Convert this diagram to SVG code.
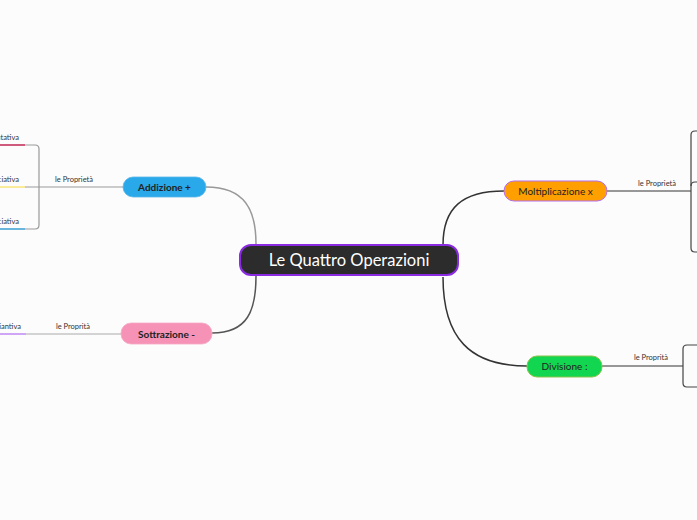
<svg xmlns="http://www.w3.org/2000/svg" width="697" height="520" viewBox="0 0 697 520">
<style>
text{font-family:"Lato","Noto Sans","Liberation Sans",sans-serif}
.lbl{font-size:7.5px;fill:#333}
.main{font-size:10px;fill:#222;text-anchor:middle}
.sub{fill:none;stroke-width:1.2}
</style>
<rect width="697" height="520" fill="#fcfcfc"/>
<g id="connectors" fill="none">
<path d="M206,187 C245,187 256,210 256,244" stroke="#999" stroke-width="1.5"/>
<path d="M256,276 C256,310 248,333 212,333" stroke="#555" stroke-width="1.5"/>
<path d="M443,245 C443,208 462,191 504,191" stroke="#333" stroke-width="1.5"/>
<path d="M443,277 C443,338 470,366 527,366" stroke="#333" stroke-width="1.5"/>
<path class="sub" d="M123,187 H25" stroke="#999"/>
<path class="sub" d="M0,145 H35 Q39,145 39,149 V225 Q39,229 35,229 H0" stroke="#999"/>
<path class="sub" d="M0,145 H25" stroke="#d0104c" stroke-width="1.5"/>
<path class="sub" d="M0,187 H25" stroke="#f8e05a" stroke-width="1.5"/>
<path class="sub" d="M0,229 H25" stroke="#29a8ea" stroke-width="1.5"/>
<path class="sub" d="M121,334 H26" stroke="#aaa"/>
<path class="sub" d="M0,334 H26" stroke="#b36cf0" stroke-width="1.5"/>
<path class="sub" d="M607,191 H691" stroke="#333"/>
<path class="sub" d="M697,131 H695 Q691,131 691,135 V248 Q691,252 695,252 H697" stroke="#444"/>
<path class="sub" d="M691,186 Q691,182 695,182 H697" stroke="#444"/>
<path class="sub" d="M602,366 H683" stroke="#333"/>
<path class="sub" d="M697,345 H687 Q683,345 683,349 V383 Q683,387 687,387 H697" stroke="#444"/>
</g>
<g id="labels">
<text class="lbl" x="93" y="182" text-anchor="end">le Proprietà</text>
<text class="lbl" x="19" y="140" text-anchor="end">Commutativa</text>
<text class="lbl" x="19" y="182" text-anchor="end">Associativa</text>
<text class="lbl" x="19" y="224" text-anchor="end">Dissociativa</text>
<text class="lbl" x="90" y="329" text-anchor="end">le Proprità</text>
<text class="lbl" x="21" y="329" text-anchor="end">Invariantiva</text>
<text class="lbl" x="676" y="186" text-anchor="end">le Proprietà</text>
<text class="lbl" x="668" y="360" text-anchor="end">le Proprità</text>
</g>
<g id="center">
<rect x="240" y="245" width="218" height="30" rx="11" fill="#2c2c2c" stroke="#8a2be2" stroke-width="2"/>
<text x="349" y="266" font-size="16.5" fill="#fff" text-anchor="middle">Le Quattro Operazioni</text>
</g>
<g id="addizione">
<rect x="123" y="177" width="83" height="20" rx="10" fill="#29a8ea" stroke="#5ab6e8" stroke-width="0.8"/>
<text class="main" x="164.5" y="191" font-weight="bold">Addizione +</text>
</g>
<g id="sottrazione">
<rect x="121" y="323" width="91" height="21" rx="10" fill="#f592b5" stroke="#f6a8c4" stroke-width="0.8"/>
<text class="main" x="166.5" y="337.5" font-weight="bold">Sottrazione -</text>
</g>
<g id="moltiplicazione">
<rect x="504" y="181" width="103" height="20" rx="10" fill="#ff9f00" stroke="#b36cf0" stroke-width="1"/>
<text class="main" x="555.5" y="195">Moltiplicazione x</text>
</g>
<g id="divisione">
<rect x="527" y="356" width="75" height="21" rx="10" fill="#12d650" stroke="#8bc34a" stroke-width="1"/>
<text class="main" x="564.5" y="370">Divisione :</text>
</g>
</svg>
